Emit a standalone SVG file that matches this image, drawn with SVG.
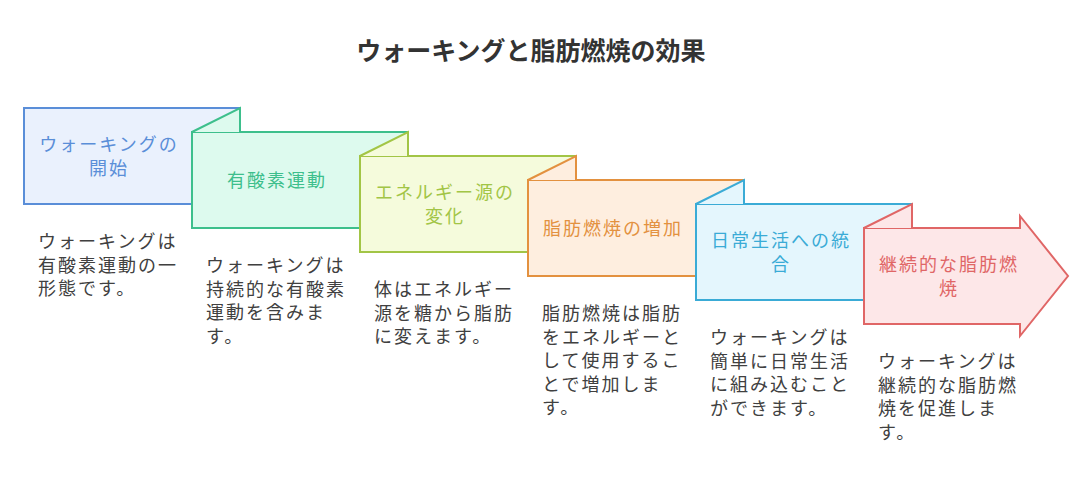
<svg xmlns="http://www.w3.org/2000/svg" width="1092" height="492" viewBox="0 0 1092 492">
<style>
text{font-family:"Noto Sans CJK JP","Noto Sans",sans-serif;}
.title{font-size:25px;font-weight:bold;fill:#333333;text-anchor:middle;}
.lbl{font-size:18px;letter-spacing:2px;text-anchor:middle;}
.desc{font-size:18px;letter-spacing:2px;fill:#404040;}
.s{stroke-width:2;stroke-linejoin:miter;}
.n1{fill:#eaf1fd;stroke:#5a8ed8;} .t1{fill:#5a8ed8;}
.n2{fill:#ddfaee;stroke:#3dbf8c;} .t2{fill:#3dbf8c;}
.n3{fill:#f5fbdc;stroke:#a2c546;} .t3{fill:#a2c546;}
.n4{fill:#feeedf;stroke:#e3913f;} .t4{fill:#e3913f;}
.n5{fill:#e4f6fd;stroke:#3aabd6;} .t5{fill:#3aabd6;}
.n6{fill:#fde7e8;stroke:#e06666;} .t6{fill:#e06666;}
</style>
<rect width="1092" height="492" fill="#ffffff"/>
<text class="title" x="531" y="60">ウォーキングと脂肪燃焼の効果</text>
<g id="connectors"></g>
<g id="node1">
<rect class="s n1" x="24" y="108" width="216" height="96"/>
<text class="lbl t1" x="109" y="151"><tspan x="109">ウォーキングの</tspan><tspan x="109" dy="24">開始</tspan></text>
<text class="desc" x="38" y="248"><tspan x="38">ウォーキングは</tspan><tspan x="38" dy="23.5">有酸素運動の一</tspan><tspan x="38" dy="23.5">形態です。</tspan></text>
</g>
<g id="node2">
<rect class="s n2" x="192" y="132" width="216" height="96"/>
<path class="s n2" d="M192,132 L240,108 L240,132"/>
<text class="lbl t2" x="277" y="187">有酸素運動</text>
<text class="desc" x="206" y="272"><tspan x="206">ウォーキングは</tspan><tspan x="206" dy="23.5">持続的な有酸素</tspan><tspan x="206" dy="23.5">運動を含みま</tspan><tspan x="206" dy="23.5">す。</tspan></text>
</g>
<g id="node3">
<rect class="s n3" x="360" y="156" width="216" height="96"/>
<path class="s n3" d="M360,156 L408,132 L408,156"/>
<text class="lbl t3" x="445" y="199"><tspan x="445">エネルギー源の</tspan><tspan x="445" dy="24">変化</tspan></text>
<text class="desc" x="374" y="296"><tspan x="374">体はエネルギー</tspan><tspan x="374" dy="23.5">源を糖から脂肪</tspan><tspan x="374" dy="23.5">に変えます。</tspan></text>
</g>
<g id="node4">
<rect class="s n4" x="528" y="180" width="216" height="96"/>
<path class="s n4" d="M528,180 L576,156 L576,180"/>
<text class="lbl t4" x="613" y="235">脂肪燃焼の増加</text>
<text class="desc" x="542" y="320"><tspan x="542">脂肪燃焼は脂肪</tspan><tspan x="542" dy="23.5">をエネルギーと</tspan><tspan x="542" dy="23.5">して使用するこ</tspan><tspan x="542" dy="23.5">とで増加しま</tspan><tspan x="542" dy="23.5">す。</tspan></text>
</g>
<g id="node5">
<rect class="s n5" x="696" y="204" width="216" height="96"/>
<path class="s n5" d="M696,204 L744,180 L744,204"/>
<text class="lbl t5" x="781" y="247"><tspan x="781">日常生活への統</tspan><tspan x="781" dy="24">合</tspan></text>
<text class="desc" x="710" y="344"><tspan x="710">ウォーキングは</tspan><tspan x="710" dy="23.5">簡単に日常生活</tspan><tspan x="710" dy="23.5">に組み込むこと</tspan><tspan x="710" dy="23.5">ができます。</tspan></text>
</g>
<g id="node6">
<polygon class="s n6" points="864,228 1020,228 1020,216 1068,276 1020,336 1020,324 864,324"/>
<path class="s n6" d="M864,228 L912,204 L912,228"/>
<text class="lbl t6" x="949" y="271"><tspan x="949">継続的な脂肪燃</tspan><tspan x="949" dy="24">焼</tspan></text>
<text class="desc" x="878" y="368"><tspan x="878">ウォーキングは</tspan><tspan x="878" dy="23.5">継続的な脂肪燃</tspan><tspan x="878" dy="23.5">焼を促進しま</tspan><tspan x="878" dy="23.5">す。</tspan></text>
</g>
</svg>
